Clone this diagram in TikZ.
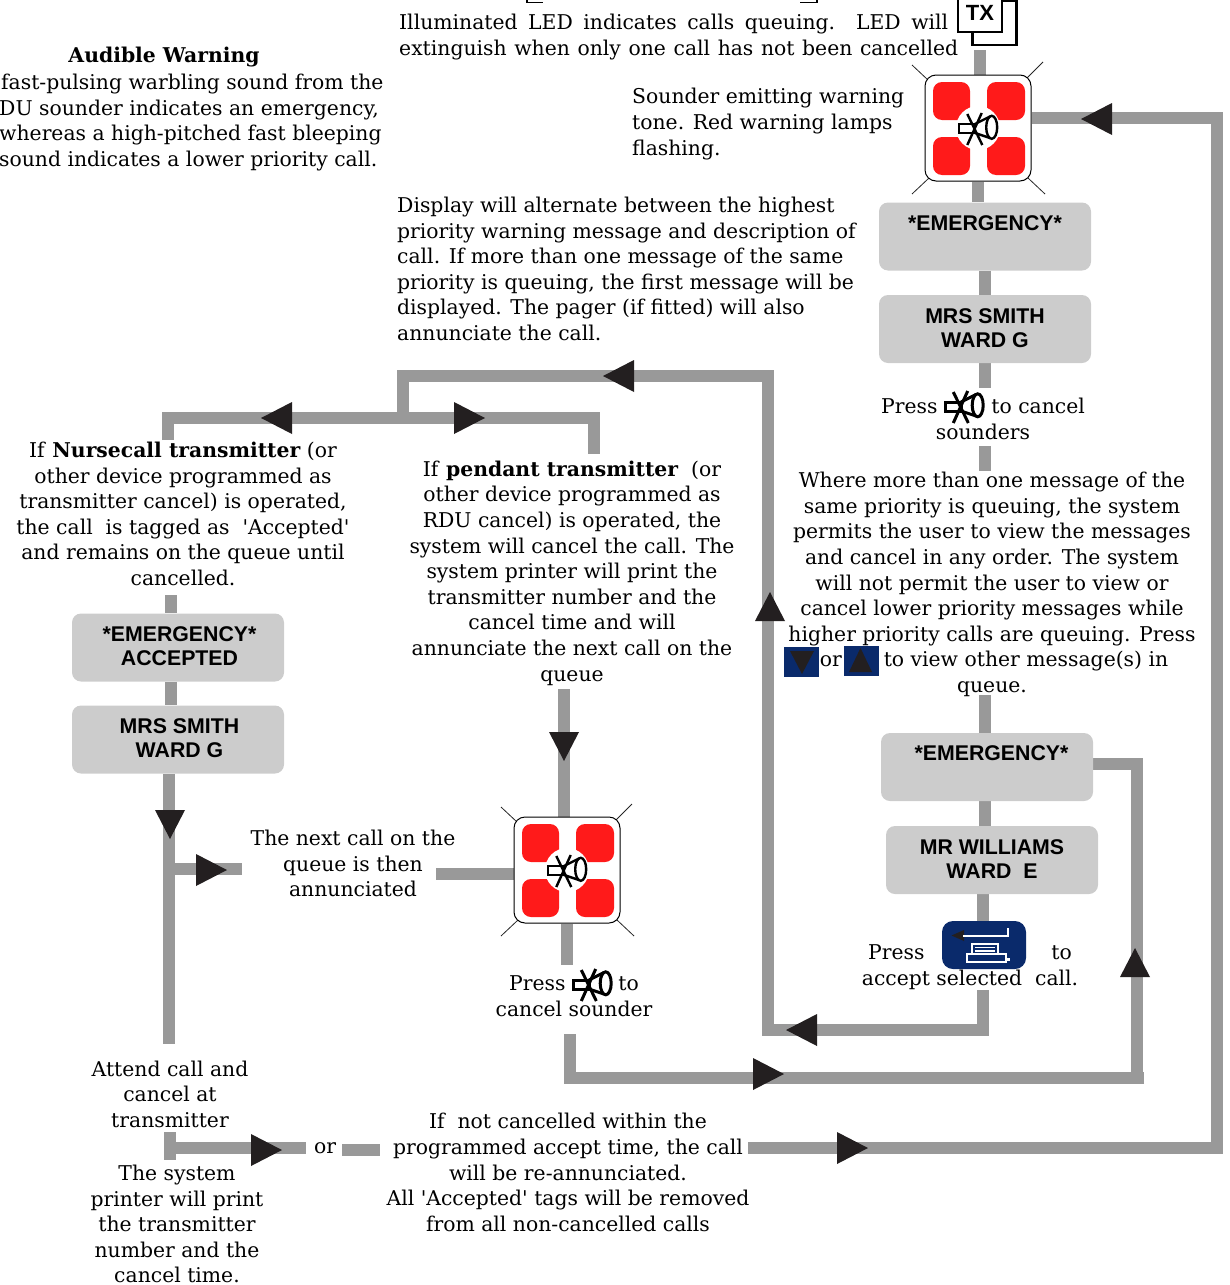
\documentclass[tikz,border=0pt]{standalone}
\usepackage{fontspec}
\setmainfont{DejaVu Serif}
\newfontfamily\plainq{DejaVu Serif}
\newfontfamily\boxfont{Liberation Sans}
\newcommand{\sq}{{\plainq'}}
\usetikzlibrary{backgrounds}
\definecolor{barc}{HTML}{999999}
\definecolor{boxc}{HTML}{CCCCCC}
\definecolor{navyc}{HTML}{0A2A6B}
\definecolor{redc}{HTML}{FF1A1A}
\definecolor{darkc}{HTML}{231F20}
\tikzset{
 bar/.style={draw=barc,line width=12pt,line cap=butt,line join=miter},
 grey/.style={fill=boxc,rounded corners=9pt,minimum width=212pt,minimum height=68pt,inner sep=0pt},
 glab/.style={inner sep=0pt,align=center,font=\boxfont\bfseries\fontsize{21.3}{24}\selectfont},
 body/.style={inner sep=0pt,font=\fontsize{20.35}{25.6}\selectfont,text=black},
 cc/.style={body,align=center},
 ll/.style={body,align=left},
 headtip/.style={fill=darkc,draw=none},
 ray/.style={draw=black!85,line width=0.8pt},
 redsq/.style={fill=redc,rounded corners=9pt},
 sirenbox/.style={draw=black,line width=1pt,fill=white,rounded corners=11pt,minimum size=106pt,inner sep=0pt},
}
\newcommand{\arrL}[2]{\fill[headtip] (#1,#2) -- (#1+31,#2-16) -- (#1+31,#2+16) -- cycle;}
\newcommand{\arrR}[2]{\fill[headtip] (#1,#2) -- (#1-31,#2-16) -- (#1-31,#2+16) -- cycle;}
\newcommand{\arrU}[2]{\fill[headtip] (#1,#2) -- (#1-15,#2+29) -- (#1+15,#2+29) -- cycle;}
\newcommand{\arrD}[2]{\fill[headtip] (#1,#2) -- (#1-15,#2-29) -- (#1+15,#2-29) -- cycle;}
% cancel-sounder symbol: centre, line width
\newcommand{\hornicon}[3]{%
 \begin{scope}[shift={(#1,#2)},line width=#3,draw=black]
  \draw (-3,-4) rectangle (-19,5);
  \draw (13.7,-0.7) ellipse (5.5 and 11.5);
  \draw (-3,-4) -- (12,-11.5);
  \draw (-3,5) -- (12,10);
  \draw (-10.7,-14) -- (4.3,17);
  \draw (3.7,-15) -- (-10.7,17);
 \end{scope}}
\newcommand{\sirenicon}[3]{%
 \draw[ray] (#2-66,#3-63) -- (#2-50,#3-48);
 \draw[ray] (#2+65,#3-66) -- (#2+49,#3-50);
 \draw[ray] (#2-66,#3+66) -- (#2-49,#3+50);
 \draw[ray] (#2+67,#3+66) -- (#2+50,#3+50);
 \node[sirenbox] (#1) at (#2,#3) {};
 \fill[redsq] (#2-45,#3-46) rectangle (#2-8,#3-8);
 \fill[redsq] (#2+9,#3-46) rectangle (#2+47,#3-8);
 \fill[redsq] (#2-45,#3+9) rectangle (#2-8,#3+47);
 \fill[redsq] (#2+9,#3+9) rectangle (#2+47,#3+47);
 \fill[white] (#2,#3) circle (22);
 \hornicon{#2}{#3}{2.4pt}}
\begin{document}
\begin{tikzpicture}[x=1pt,y=-1pt]
\path[use as bounding box,clip] (0,0) rectangle (1229,1285);

% fragments of a box cut off at the top edge
\draw[black,line width=1.2pt] (527,0) -- (527,2.5) -- (543,2.5);
\draw[black,line width=1.2pt] (800,2.5) -- (817,2.5) -- (817,0);

% TX icon
\node[draw=black,line width=2.6pt,fill=white,minimum width=44pt,minimum height=44pt,inner sep=0pt] (txb) at (994.5,23) {};
\node[draw=black,line width=2.6pt,fill=white,minimum width=44pt,minimum height=38pt,inner sep=0pt,
  font=\boxfont\bfseries\fontsize{22}{24}\selectfont] (txf) at (980,13) {TX};

\sirenicon{sirenA}{978}{128}
\sirenicon{sirenB}{567}{870}

% grey message boxes
\node[grey,label={[glab,yshift=1.5pt]center:{*EMERGENCY*\\~}}] (eA) at (985,236.5) {};
\node[grey,label={[glab,yshift=1pt]center:{MRS SMITH\\WARD G}}] (mA) at (985,329) {};
\node[grey,label={[glab,yshift=1.5pt,xshift=4.5pt]center:{*EMERGENCY*\\~}}] (eB) at (987,767) {};
\node[grey,label={[glab,yshift=1pt]center:{MR WILLIAMS\\WARD\ \ E}}] (mB) at (992,860) {};
\node[grey,label={[glab,yshift=1.5pt,xshift=1.5pt]center:{*EMERGENCY*\\ACCEPTED}}] (eC) at (178,647.5) {};
\node[grey,label={[glab,yshift=1.5pt,xshift=1.5pt]center:{MRS SMITH\\WARD G}}] (mC) at (178,739.5) {};

% accept button
\node[fill=navyc,rounded corners=11pt,minimum width=84pt,minimum height=48pt,inner sep=0pt] (btn) at (984,945) {};
\fill[darkc] (951.5,935.5) -- (964,930) -- (964,941) -- cycle;
\draw[white,line width=2pt] (963,935.5) -- (1008,935.5) -- (1008,928);
\draw[white,line width=1.2pt] (972,944) rectangle (998,954);
\draw[white,line width=1.5pt] (975,947.5) -- (995,947.5);
\draw[white,line width=1.5pt] (975,951) -- (995,951);
\draw[white,line width=1.2pt] (967,954) rectangle (1006,962);
\fill[white] (1006,957.5) rectangle (1010,961);

% arrow keys
\node[fill=navyc,minimum width=35pt,minimum height=30pt,inner sep=0pt] (kd) at (801.5,662) {};
\fill[darkc] (790,651) -- (814,651) -- (802,674) -- cycle;
\node[fill=navyc,minimum width=35pt,minimum height=30pt,inner sep=0pt] (ku) at (861.5,661) {};
\fill[darkc] (849,672) -- (872,672) -- (860.5,648) -- cycle;

% text
\node[body,font=\bfseries\fontsize{20.35}{25.6}\selectfont] (tAud) at (164,57) {Audible Warning};
\node[ll,anchor=west] (tAudB) at (-1,122.5) {\hspace*{2pt}fast-pulsing warbling sound from the\\DU sounder indicates an emergency,\\whereas a high-pitched fast bleeping\\sound indicates a lower priority call.};
\node[ll,anchor=west] (tLed) at (399,37) {\makebox[549pt][s]{Illuminated LED indicates calls queuing. LED will}\\\makebox[559pt][s]{extinguish when only one call has not been cancelled}};
\node[ll,anchor=west] (tSnd) at (632,124) {Sounder emitting warning\\tone. Red warning lamps\\flashing.};
\node[ll,anchor=west] (tDisp) at (397,269) {Display will alternate between the highest\\priority warning message and description of\\call. If more than one message of the same\\priority is queuing, the first message will be\\displayed. The pager (if fitted) will also\\annunciate the call.};
\node[cc] (tPress) at (983,419) {Press\hspace{54pt}to cancel\\sounders};
\node[cc] (tWhere) at (992,584.5) {Where more than one message of the\\same priority is queuing, the system\\permits the user to view the messages\\and cancel in any order. The system\\will not permit the user to view or\\cancel lower priority messages while\\higher priority calls are queuing. Press\\\hspace*{36pt}or\hspace{42pt}to view other message(s) in\hspace*{32pt}\mbox{}\\queue.};
\node[cc] (tNurse) at (183,514) {If \textbf{Nursecall transmitter} (or\\other device programmed as\\transmitter cancel) is operated,\\the call\ \ is tagged as\ \ \sq Accepted\sq\\and remains on the queue until\\cancelled.};
\node[cc] (tPend) at (572,573) {If \textbf{pendant transmitter}\ \ (or\\other device programmed as\\RDU cancel) is operated, the\\system will cancel the call. The\\system printer will print the\\transmitter number and the\\cancel time and will\\annunciate the next call on the\\queue};
\node[cc] (tNext) at (353,863.5) {The next call on the\\queue is then\\annunciated};
\node[cc] (tPressB) at (574,996.5) {Press\hspace{53pt}to\\cancel sounder};
\node[cc] (tAcc) at (970,967) {Press\hspace{127pt}to\\accept selected\ \ call.};
\node[cc] (tAtt) at (170,1094) {Attend call and\\cancel at\\transmitter};
\node[cc] (tSys) at (177,1224) {The system\\printer will print\\the transmitter\\number and the\\cancel time.};
\node[body] (tOr) at (325,1148) {or};
\node[cc] (tNot) at (568,1172.5) {If\ \ not cancelled within the\\programmed accept time, the call\\will be re-annunciated.\\All \sq Accepted\sq\ tags will be removed\\from all non-cancelled calls};

% icons printed in the text
\hornicon{964}{406}{3pt}
\hornicon{592}{984}{3pt}

% connector end points
\coordinate (cTxB) at (980,50);
\coordinate (cPressTop) at (985,388);
\coordinate (cWhereTop) at (985,446);
\coordinate (cWhereTopE) at (985,471);
\coordinate (cWhereBot) at (985,695);
\coordinate (cBtnB) at (983,990);
\coordinate (cBtnE) at (983,1036);
\coordinate (cLoopBL) at (768,1030);
\coordinate (cLoopTR) at (768,376);
\coordinate (cLoopTL) at (403,376);
\coordinate (cFork) at (403,418);
\coordinate (cForkL) at (168,418);
\coordinate (cForkLd) at (168,440);
\coordinate (cForkR) at (594,418);
\coordinate (cForkRd) at (594,454);
\coordinate (cRingR) at (1217,118);
\coordinate (cRingB) at (1217,1148);
\coordinate (cRingS) at (748,1148);
\coordinate (cBt) at (1137,764);
\coordinate (cBb) at (1137,1078);
\coordinate (cBe) at (1144,1078);
\coordinate (cBl) at (570,1078);
\coordinate (cBs) at (570,1034);
\coordinate (cLeftA) at (171,595);
\coordinate (cLeftB) at (169,1044);
\coordinate (cBrA) at (169,869);
\coordinate (cBrB) at (242,869);
\coordinate (cNx) at (436,874);
\coordinate (cPdA) at (564,689);
\coordinate (cSnE) at (567,965);
\coordinate (cAtA) at (170,1132);
\coordinate (cAtB) at (170,1160);
\coordinate (cOrA) at (170,1148);
\coordinate (cOrB) at (306,1148);
\coordinate (cOrC) at (342,1150);
\coordinate (cOrD) at (380,1150);

\begin{scope}[on background layer]
 \draw[bar] (cTxB) -- (cTxB |- sirenA.north);
 \draw[bar] (sirenA.south) -- (sirenA.south |- eA.north);
 \draw[bar] (eA.south) -- (mA.north);
 \draw[bar] (mA.south) -- (cPressTop);
 \draw[bar] (cWhereTop) -- (cWhereTopE);
 \draw[bar] (cWhereBot) -- (cWhereBot |- eB.north);
 \draw[bar] (cWhereBot |- eB.south) -- (cWhereBot |- mB.north);
 \draw[bar] (cBtnB |- mB.south) -- (cBtnB |- btn.north);
 \draw[bar] (cBtnB) -- (cBtnE);
 \draw[bar] (cBtnB |- cLoopBL) -- (cLoopBL) -- (cLoopTR) -- (cLoopTL) -- (cFork);
 \draw[bar] (cForkLd) -- (cForkL) -- (cForkR) -- (cForkRd);
 \draw[bar] (sirenA.east |- cRingR) -- (cRingR) -- (cRingB) -- (cRingS);
 \draw[bar] (eB.east |- cBt) -- (cBt) -- (cBb);
 \draw[bar] (cBe) -- (cBl) -- (cBs);
 \draw[bar] (cLeftA) -- (cLeftA |- eC.north);
 \draw[bar] (cLeftA |- eC.south) -- (cLeftA |- mC.north);
 \draw[bar] (cLeftB |- mC.south) -- (cLeftB);
 \draw[bar] (cBrA) -- (cBrB);
 \draw[bar] (cNx) -- (sirenB.west |- cNx);
 \draw[bar] (cPdA) -- (cPdA |- sirenB.north);
 \draw[bar] (cSnE |- sirenB.south) -- (cSnE);
 \draw[bar] (cAtA) -- (cAtB);
 \draw[bar] (cOrA) -- (cOrB);
 \draw[bar] (cOrC) -- (cOrD);
\end{scope}

% arrowheads
\arrL{1081}{119}
\arrL{786}{1030}
\arrU{770}{592}
\arrL{603}{376}
\arrL{261}{418}
\arrR{485}{418}
\arrD{564}{761}
\arrD{170}{839}
\arrR{227}{870}
\arrU{1135}{948}
\arrR{784}{1074}
\arrR{282}{1150}
\arrR{868}{1148}
\end{tikzpicture}
\end{document}
